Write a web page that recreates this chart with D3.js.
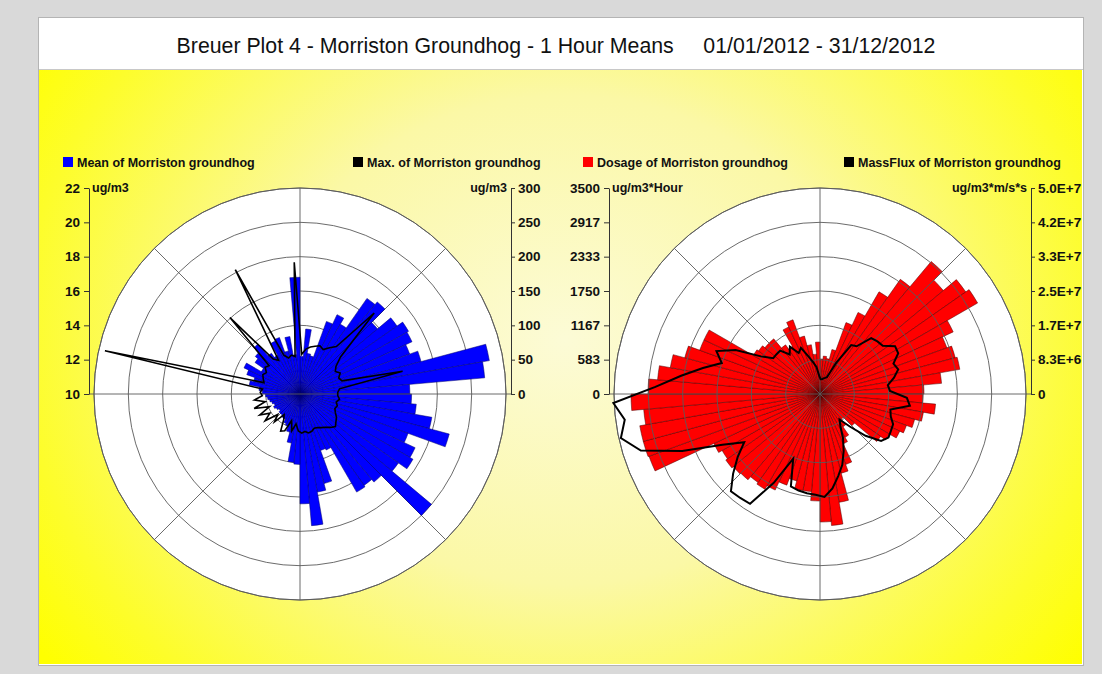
<!DOCTYPE html>
<html><head><meta charset="utf-8">
<script src="https://cdn.jsdelivr.net/npm/d3@7"></script>
<style>
html,body{margin:0;padding:0;background:#d9d9d9;}
svg{display:block;font-family:"Liberation Sans",Arial,sans-serif;}
</style>
</head><body>
<svg id="chart" width="1102" height="674"></svg>
<script>
// ---------- DATA ----------
const titleText = "Breuer Plot 4 - Morriston Groundhog - 1 Hour Means\u00a0\u00a0\u00a0\u00a0 01/01/2012 - 31/12/2012";
const sectorStarts = d3.range(0, 360, 5); // 72 wind sectors, 5 degrees each

const meanValues = [12.2,13.8,12.4,12.3,14.5,15.1,14.7,16.8,17.0,15.9,16.9,17.3,17.2,16.8,17.3,21.2,20.8,16.4,
  16.5,16.8,17.8,19.0,16.7,17.4,17.6,17.0,20.0,16.7,16.5,16.6,13.6,13.5,15.4,15.8,17.7,16.4,
  14.1,14.0,12.9,12.3,12.0,11.9,11.7,11.7,11.6,11.6,11.5,11.6,11.7,11.6,11.7,11.8,11.9,12.0,
  12.2,12.4,13.0,12.8,13.3,13.6,12.6,13.2,13.4,13.8,12.9,12.6,13.4,13.5,12.6,13.4,12.3,16.8];

const maxValues = [58,66,70,73,76,73,80,87,160,80,66,61,66,61,64,153,58,55,
  55,58,54,57,55,58,63,66,70,66,61,58,55,54,57,58,55,57,
  54,44,55,41,58,61,44,38,55,44,64,52,66,48,70,52,67,55,
  58,55,291,55,58,61,58,64,61,151,64,58,204,61,55,58,55,192];

const dosageValues = [595,646,612,782,1291,1529,2005,2379,2939,2735,3024,3092,2497,2294,2379,2412,2073,1767,
  1750,1971,1784,1665,1563,1495,1359,1257,765,561,680,850,934,1274,1393,1869,2243,2175,
  1818,1665,1665,1529,1648,1801,1869,1835,1903,1920,1954,1920,1988,3092,3109,3109,3007,3211,
  2922,2770,2583,2379,2175,2175,1308,1274,1223,1223,1019,934,1257,1342,1019,850,680,883];

const massFluxValues = [3.6e6,3.6e6,3.9e6,4.1e6,4.4e6,8.5e6,14.1e6,14.6e6,18.4e6,18.9e6,19.2e6,21.6e6,21.4e6,19.3e6,19.9e6,18.4e6,16.6e6,17.0e6,
  21.1e6,22.0e6,17.5e6,18.0e6,19.2e6,19.4e6,19.7e6,18.7e6,15.0e6,10.7e6,7.8e6,9.2e6,12.1e6,15.0e6,18.0e6,20.4e6,23.1e6,25.0e6,
  24.5e6,24.3e6,24.0e6,23.5e6,17.0e6,24.3e6,31.6e6,31.8e6,32.0e6,28.6e6,25.2e6,21.8e6,26.7e6,36.2e6,45.6e6,49.5e6,47.8e6,50.2e6,
  40.0e6,34.0e6,29.1e6,25.0e6,27.2e6,23.1e6,17.0e6,14.3e6,14.3e6,14.3e6,12.1e6,13.6e6,11.2e6,12.1e6,9.7e6,8.0e6,6.6e6,4.4e6];

const meanTicks = [10,12,14,16,18,20,22];
const maxTicks = [0,50,100,150,200,250,300];
const dosageTicks = d3.range(7).map(i => 3500 * i / 6);
const massFluxTicks = d3.range(7).map(i => 5e7 * i / 6);

const legendLabels = ["Mean of Morriston groundhog","Max. of Morriston groundhog",
                      "Dosage of Morriston groundhog","MassFlux of Morriston groundhog"];
const unitLabels = ["ug/m3","ug/m3","ug/m3*Hour","ug/m3*m/s*s"];

// ---------- LAYOUT ----------
const svg = d3.select("#chart");
const R = 206, CY = 394, AX = 211;
const defs = svg.append("defs");
const grad = defs.append("radialGradient").attr("id","bg")
  .attr("gradientUnits","userSpaceOnUse").attr("cx",565).attr("cy",340).attr("r",640)
  .attr("gradientTransform","translate(565,340) scale(1,0.85) translate(-565,-340)");
grad.append("stop").attr("offset","0%").attr("stop-color","#fcfbd6");
grad.append("stop").attr("offset","45%").attr("stop-color","#fbf8a6");
grad.append("stop").attr("offset","85%").attr("stop-color","#fdfd2a");
grad.append("stop").attr("offset","100%").attr("stop-color","#ffff00");
defs.append("clipPath").attr("id","plotclip").append("rect")
  .attr("x",38).attr("y",70).attr("width",1044).attr("height",594);

// frame
svg.append("rect").attr("x",38.5).attr("y",17.5).attr("width",1045).attr("height",648)
  .attr("fill","#ffffff").attr("stroke","#b4b4b4");
svg.append("rect").attr("x",39).attr("y",70).attr("width",1043).attr("height",594).attr("fill","url(#bg)");
svg.append("line").attr("x1",39).attr("x2",1083).attr("y1",69.5).attr("y2",69.5).attr("stroke","#c8c8c8");

svg.append("text").attr("x",556).attr("y",53).attr("text-anchor","middle")
  .attr("font-size","21.3px").attr("fill","#111").text(titleText);

const plot = svg.append("g").attr("clip-path","url(#plotclip)");

function polarChart(cfg) {
  const rBar = d3.scaleLinear().domain(d3.extent(cfg.leftTicks)).range([0, R]);
  const rLine = d3.scaleLinear().domain(d3.extent(cfg.rightTicks)).range([0, R]);
  const g = plot.append("g");
  const c = g.append("g").attr("transform", `translate(${cfg.cx},${CY})`);

  c.append("circle").attr("r", R).attr("fill", "#fff");

  const gridLayer = c.append("g");
  const barLayer = c.append("g");
  if (cfg.gridOnTop) gridLayer.raise();

  const arc = d3.arc().innerRadius(0);
  barLayer.selectAll("path.bar").data(cfg.bars).join("path").attr("class","bar")
    .attr("d", (v, i) => arc({outerRadius: rBar(v),
        startAngle: sectorStarts[i] * Math.PI / 180,
        endAngle: (sectorStarts[i] + 5) * Math.PI / 180}))
    .attr("fill", cfg.color).attr("stroke", cfg.stroke).attr("stroke-width", 0.5);

  // grid rings
  gridLayer.selectAll("circle.ring").data(cfg.leftTicks.slice(1)).join("circle").attr("class","ring")
    .attr("r", d => rBar(d)).attr("fill","none").attr("stroke","#5a5a5a").attr("stroke-width",0.9);
  // spokes
  [0,45,135,180,225,315].forEach(a => {
    const t = a * Math.PI / 180;
    gridLayer.append("line").attr("x1",0).attr("y1",0)
      .attr("x2", R * Math.sin(t)).attr("y2", -R * Math.cos(t))
      .attr("stroke","#5a5a5a").attr("stroke-width",0.9);
  });
  c.append("line").attr("x1",-AX).attr("x2",AX).attr("y1",0).attr("y2",0)
    .attr("stroke","#5a5a5a").attr("stroke-width",0.9);
  c.append("circle").attr("r", R).attr("fill","none").attr("stroke","#5a5a5a").attr("stroke-width",0.9);

  // line series
  const line = d3.lineRadial()
    .angle((d, i) => (sectorStarts[i] + 2.5) * Math.PI / 180)
    .radius(d => rLine(d)).curve(d3.curveLinearClosed);
  c.append("path").attr("d", line(cfg.lineVals)).attr("fill","none")
    .attr("stroke","#000").attr("stroke-width",cfg.lineWidth).attr("stroke-linejoin","miter");

  // axes
  const yL = d3.scaleLinear().domain(d3.extent(cfg.leftTicks)).range([CY, CY - R]);
  const yR = d3.scaleLinear().domain(d3.extent(cfg.rightTicks)).range([CY, CY - R]);
  const axL = g.append("g").attr("transform", `translate(${cfg.cx - AX},0)`)
    .call(d3.axisLeft(yL).tickValues(cfg.leftTicks).tickFormat(cfg.leftFmt).tickSize(5).tickSizeOuter(0).tickPadding(4));
  const axR = g.append("g").attr("transform", `translate(${cfg.cx + AX},0)`)
    .call(d3.axisRight(yR).tickValues(cfg.rightTicks).tickFormat(cfg.rightFmt).tickSize(4).tickSizeOuter(0).tickPadding(3));
  [axL, axR].forEach(ax => {
    ax.selectAll("path.domain").attr("stroke","#333");
    ax.selectAll(".tick line").attr("stroke","#333");
    ax.selectAll("text").attr("font-size","13.5px").attr("font-weight","bold")
      .attr("font-family",'"Liberation Sans",Arial,sans-serif').attr("fill","#111");
  });
  g.append("text").attr("x", cfg.cx - AX + 3).attr("y", CY - R).attr("dy","0.35em")
    .attr("font-size","12.5px").attr("font-weight","bold").attr("fill","#111").text(cfg.unitL);
  g.append("text").attr("x", cfg.cx + AX - 4).attr("y", CY - R).attr("dy","0.35em")
    .attr("text-anchor","end").attr("font-size","12.5px").attr("font-weight","bold").attr("fill","#111").text(cfg.unitR);

  // legend
  cfg.legend.forEach(l => {
    g.append("rect").attr("x", l.x).attr("y", 157).attr("width",10).attr("height",10).attr("fill", l.color);
    g.append("text").attr("x", l.x + 14).attr("y", 166.5).attr("font-size","12.5px")
      .attr("font-weight","bold").attr("fill","#111").text(l.label);
  });
}

const expFmt = v => v === 0 ? "0" : v.toExponential(1).toUpperCase();

polarChart({
  cx: 300, bars: meanValues, lineVals: maxValues, color: "#0000ff", stroke: "#00006a", lineWidth: 1.6,
  gridOnTop: false,
  leftTicks: meanTicks, rightTicks: maxTicks, leftFmt: d3.format("d"), rightFmt: d3.format("d"),
  unitL: unitLabels[0], unitR: unitLabels[1],
  legend: [{x: 63, color: "#0000ff", label: legendLabels[0]}, {x: 353, color: "#000", label: legendLabels[1]}]
});
polarChart({
  cx: 820, bars: dosageValues, lineVals: massFluxValues, color: "#ff0000", stroke: "#4a0000", lineWidth: 2,
  gridOnTop: true,
  leftTicks: dosageTicks, rightTicks: massFluxTicks, leftFmt: d => Math.round(d), rightFmt: expFmt,
  unitL: unitLabels[2], unitR: unitLabels[3],
  legend: [{x: 583, color: "#ff0000", label: legendLabels[2]}, {x: 844, color: "#000", label: legendLabels[3]}]
});
</script>
</body></html>
